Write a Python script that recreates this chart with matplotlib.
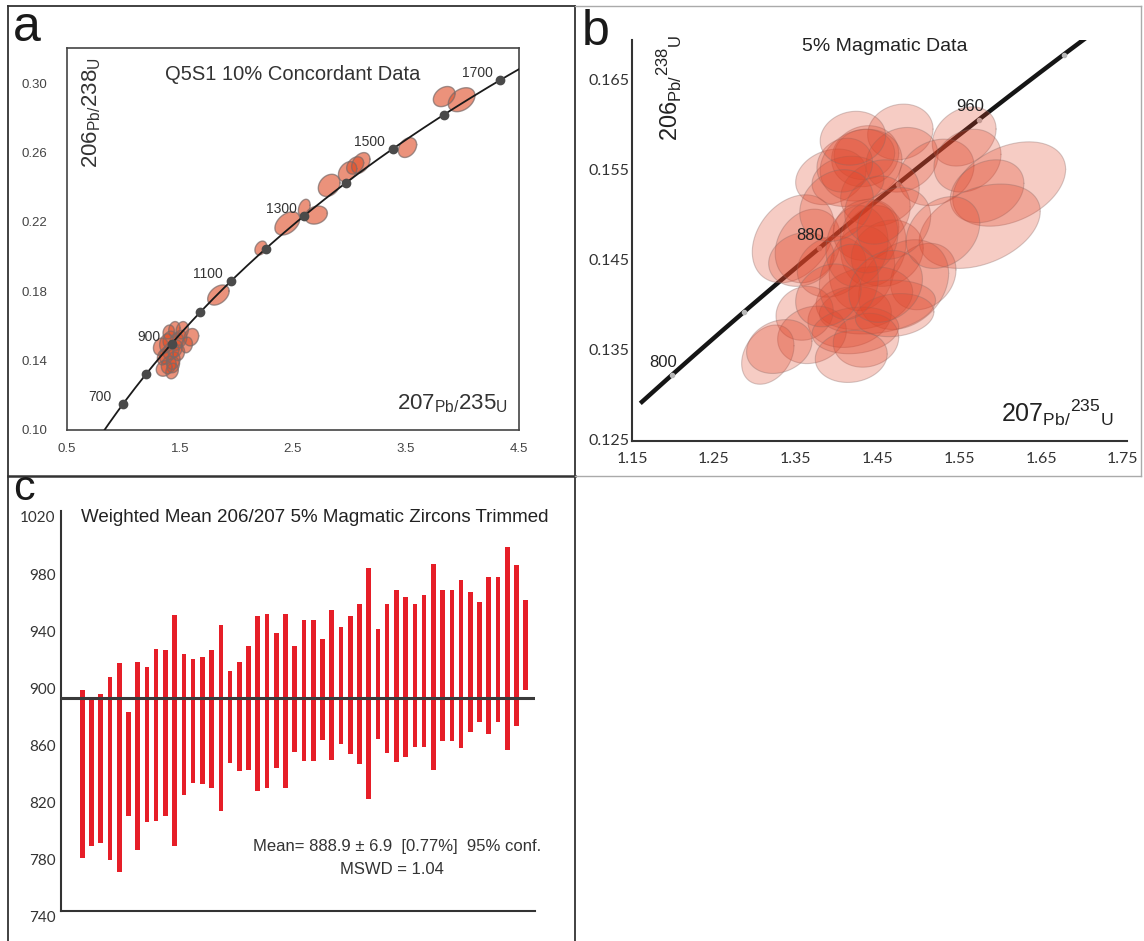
import numpy as np
import matplotlib
matplotlib.use("Agg")
import matplotlib.pyplot as plt
from matplotlib.lines import Line2D
from matplotlib.transforms import ScaledTranslation

plt.rcParams['font.family'] = ['Liberation Sans', 'DejaVu Sans']
plt.rcParams['mathtext.fontset'] = 'custom'
plt.rcParams['mathtext.rm'] = 'Liberation Sans'
plt.rcParams['mathtext.it'] = 'Liberation Sans'

W, H = 1144, 941

# decay constants (1/Ma) for the concordia curve
L238 = 1.55125e-4
L235 = 9.8485e-4

# ---- panel a: concordia, all 10% concordant data
a_marker_ages = [700, 800, 900, 1000, 1100, 1200, 1300, 1400, 1500, 1600, 1700]
a_label_ages = [700, 900, 1100, 1300, 1500, 1700]
a_curve_ages = (560, 1850)
a_xticks = [0.5, 1.5, 2.5, 3.5, 4.5]
a_yticks = [0.10, 0.14, 0.18, 0.22, 0.26, 0.30]
a_x = [3.838, 3.992, 3.513, 3.100, 2.983, 3.050, 2.820, 2.600, 2.705, 2.450, 2.215, 1.840,
       1.36, 1.40, 1.44, 1.33, 1.38, 1.42, 1.47, 1.45, 1.52, 1.50, 1.60, 1.56, 1.40, 1.43, 1.49, 1.35,
       1.41, 1.46, 1.38, 1.44]
a_sx = [0.096, 0.118, 0.081, 0.081, 0.081, 0.075, 0.096, 0.052, 0.099, 0.110, 0.052, 0.095,
        0.07, 0.065, 0.06, 0.065, 0.06, 0.07, 0.06, 0.05, 0.055, 0.06, 0.065, 0.05, 0.05, 0.055, 0.05, 0.05,
        0.06, 0.06, 0.06, 0.055]
a_y = [0.2922, 0.2904, 0.2628, 0.2539, 0.2489, 0.2525, 0.2410, 0.2280, 0.2239, 0.2191, 0.2049, 0.1778,
       0.1355, 0.1375, 0.1400, 0.1480, 0.1500, 0.1455, 0.1510, 0.1580, 0.1575, 0.1525, 0.1535, 0.1490,
       0.1565, 0.1340, 0.1445, 0.1420,
       0.1520, 0.1470, 0.1430, 0.1375]
a_sy = [0.0058, 0.0069, 0.0057, 0.0060, 0.0058, 0.0050, 0.0064, 0.0050, 0.0052, 0.0067, 0.0040, 0.0058,
        0.0045, 0.005, 0.005, 0.005, 0.0055, 0.005, 0.005, 0.0045, 0.005, 0.005, 0.005, 0.0045,
        0.004, 0.0045, 0.0045, 0.0045,
        0.005, 0.005, 0.005, 0.0045]
a_rho = [0.3, 0.35, 0.3, 0.35, 0.3, 0.3, 0.25, 0.3, 0.2, 0.4, 0.3, 0.4] + [0.15] * 20

# ---- panel b: 5% magmatic data
b_marker_ages = [800, 840, 880, 920, 960, 1000]
b_label_ages = [800, 880, 960]
b_curve_ages = (782, 1060)
b_xticks = [1.15, 1.25, 1.35, 1.45, 1.55, 1.65, 1.75]
b_yticks = [0.125, 0.135, 0.145, 0.155, 0.165]
b_x = [1.478, 1.556, 1.435, 1.434, 1.393, 1.430, 1.480, 1.522, 1.560, 1.611, 1.584, 1.575, 1.453, 1.414,
       1.347, 1.365, 1.436, 1.445, 1.431, 1.394, 1.462, 1.506, 1.357, 1.482,
       1.434, 1.416, 1.450, 1.361, 1.370, 1.423, 1.436, 1.418, 1.316, 1.330, 1.471,
       1.425, 1.440, 1.415, 1.450, 1.410,
       1.400, 1.470, 1.390, 1.460, 1.530, 1.420]
b_sx = [0.040, 0.039, 0.041, 0.037, 0.043, 0.050, 0.044, 0.046, 0.041, 0.069, 0.045, 0.074, 0.048, 0.044,
        0.050, 0.040, 0.040, 0.040, 0.040, 0.042, 0.044, 0.040, 0.040, 0.055,
        0.059, 0.051, 0.071, 0.035, 0.042, 0.053, 0.040, 0.044, 0.032, 0.040, 0.048,
        0.038, 0.035, 0.036, 0.040, 0.034,
        0.045, 0.045, 0.040, 0.045, 0.045, 0.040]
b_y = [0.1592, 0.1587, 0.1565, 0.1567, 0.1542, 0.1555, 0.1561, 0.1547, 0.1560, 0.1534, 0.1526, 0.1487, 0.1524, 0.1537,
       0.1473, 0.1465, 0.1483, 0.1465, 0.1440, 0.1442, 0.1457, 0.1431, 0.1450, 0.1422,
       0.1407, 0.1386, 0.1397, 0.1390, 0.1366, 0.1371, 0.1360, 0.1342, 0.1344, 0.1353, 0.1388,
       0.1465, 0.1475, 0.1425, 0.1505, 0.1555,
       0.1510, 0.1490, 0.1410, 0.1420, 0.1480, 0.1585]
b_sy = [0.0031, 0.0033, 0.0034, 0.0028, 0.0031, 0.0040, 0.0036, 0.0037, 0.0035, 0.0047, 0.0035, 0.0047, 0.0037, 0.0028,
        0.0049, 0.0041, 0.0034, 0.0045, 0.0047, 0.0034, 0.0037, 0.0037, 0.0030, 0.0050,
        0.0035, 0.0034, 0.0030, 0.0030, 0.0032, 0.0026, 0.0030, 0.0029, 0.0033, 0.0030, 0.0024,
        0.0045, 0.0040, 0.0042, 0.0038, 0.0030,
        0.0040, 0.0040, 0.0035, 0.0040, 0.0040, 0.0030]
b_rho = [0.1, 0.25, 0.1, 0.05, 0.2, 0.15, 0.15, 0.2, 0.2, 0.35, 0.25, 0.35, 0.15, 0.1,
         0.3, 0.2, 0.1, 0.1, 0.1, 0.15, 0.15, 0.2, 0.15, 0.25,
         0.2, 0.15, 0.25, 0.1, 0.15, 0.15, 0.1, 0.1, 0.3, 0.2, 0.15,
         0.1, 0.1, 0.1, 0.1, 0.1,
         0.2, 0.2, 0.2, 0.2, 0.25, 0.1]

# ---- panel c: weighted mean age bars (2 sigma ranges, Ma)
c_lo = [776.8, 785.4, 787.3, 775.7, 767.5, 806.4, 782.7, 802.5, 803.0, 806.4,
        785.4, 821.0, 829.7, 828.8, 825.8, 810.0, 843.3, 838.0, 839.0, 824.0,
        826.0, 840.0, 826.0, 851.0, 845.0, 845.0, 860.0, 846.0, 856.8, 849.8,
        842.8, 818.3, 860.7, 850.7, 844.4, 848.0, 855.0, 855.0, 839.0, 859.0,
        859.0, 853.8, 865.0, 872.0, 863.8, 872.0, 853.0, 869.5, 894.5]
c_hi = [894.5, 889.4, 891.7, 903.9, 913.7, 879.0, 914.4, 910.8, 923.7, 922.5,
        947.5, 919.7, 916.7, 917.8, 922.5, 940.5, 907.8, 914.6, 925.5, 946.5,
        948.0, 934.6, 948.0, 925.5, 943.5, 943.5, 930.6, 950.5, 939.0, 946.5,
        955.0, 980.0, 937.6, 955.0, 964.5, 960.0, 955.0, 961.4, 983.0, 965.0,
        965.0, 972.0, 963.0, 956.0, 974.0, 974.0, 994.7, 982.0, 957.5]
c_mean = 888.9
c_yticks = [740, 780, 820, 860, 900, 940, 980, 1020]


def concordia(age):
    age = np.asarray(age, dtype=float)
    return np.exp(L235 * age) - 1, np.exp(L238 * age) - 1


def ellipse(x, sx, y, sy, rho, n=90):
    t = np.linspace(0, 2 * np.pi, n)
    return x + sx * np.cos(t), y + sy * (rho * np.cos(t) + np.sqrt(1 - rho ** 2) * np.sin(t))


def fig_rect(l, t, r, b):
    return [l / W, 1 - b / H, (r - l) / W, (b - t) / H]


fig = plt.figure(figsize=(W / 100, H / 100), dpi=100)
fig.patch.set_facecolor('white')

# ================= panel a
ax = fig.add_axes(fig_rect(67, 48, 519, 430))
for x, sx, y, sy, r in zip(a_x, a_sx, a_y, a_sy, a_rho):
    ex, ey = ellipse(x, sx, y, sy, r)
    ax.fill(ex, ey, facecolor='#e0502a', alpha=0.62, edgecolor='none', zorder=2)
    ax.plot(ex, ey, color='#7a6a68', lw=1.0, alpha=0.7, zorder=2.5)
cx, cy = concordia(np.linspace(a_curve_ages[0], a_curve_ages[1], 300))
ax.plot(cx, cy, color='#1a1a1a', lw=1.3, zorder=3)
mx, my = concordia(a_marker_ages)
ax.plot(mx, my, 'o', color='#4a4a4a', ms=6, zorder=4)
for age in a_label_ages:
    px, py = concordia(age)
    ax.annotate(str(age), (px, py), xytext=(-23, 7), textcoords='offset pixels',
                ha='center', va='center', fontsize=10, color='#333333', zorder=5)
ax.set_xlim(0.5, 4.5)
ax.set_ylim(0.10, 0.3202)
ax.set_xticks(a_xticks)
ax.set_xticklabels([f"{v:.1f}" for v in a_xticks])
ax.set_yticks(a_yticks)
ax.set_yticklabels([f"{v:.2f}" for v in a_yticks])
ax.tick_params(length=0, labelsize=9.5, labelcolor='#444444')
ax.tick_params(axis='y', pad=14)
ax.tick_params(axis='x', pad=9)
for s in ax.spines.values():
    s.set_color('#444444')
    s.set_linewidth(1.2)
ax.text(0.5, 0.93, 'Q5S1 10% Concordant Data', transform=ax.transAxes, ha='center', va='center',
        fontsize=14.5, color='#333333')
ax.text(0.055, 0.83, r'$\mathregular{206_{Pb/}238_{U}}$', transform=ax.transAxes, rotation=90,
        ha='center', va='center', fontsize=16, color='#333333')
ax.text(0.852, 0.07, r'$\mathregular{207_{Pb/}235_{U}}$', transform=ax.transAxes,
        ha='center', va='center', fontsize=16, color='#333333')

# ================= panel b
bx = fig.add_axes(fig_rect(632, 40, 1127, 441))
cx, cy = concordia(np.linspace(b_curve_ages[0], b_curve_ages[1], 200))
bx.plot(cx, cy, color='#151515', lw=3.2, zorder=2, solid_capstyle='butt')
mx, my = concordia(b_marker_ages)
bx.plot(mx, my, 'o', color='#b8b8b8', ms=3, zorder=2.2)
for x, sx, y, sy, r in zip(b_x, b_sx, b_y, b_sy, b_rho):
    ex, ey = ellipse(x, sx, y, sy, r)
    bx.fill(ex, ey, facecolor='#e04428', alpha=0.27, edgecolor='none', zorder=3)
    bx.plot(ex, ey, color='#8a6a66', lw=0.8, alpha=0.35, zorder=3)
for age in b_label_ages:
    px, py = concordia(age)
    bx.annotate(str(age), (px, py), xytext=(-9, 13), textcoords='offset pixels',
                ha='center', va='center', fontsize=12, color='#222222', zorder=5)
bx.set_xlim(1.15, 1.755)
bx.set_ylim(0.12478, 0.16944)
bx.set_xticks(b_xticks)
bx.set_xticklabels([f"{v:.2f}" for v in b_xticks], family=['Lato', 'DejaVu Sans'])
bx.set_yticks(b_yticks)
bx.set_yticklabels([f"{v:.3f}" for v in b_yticks], family=['Lato', 'DejaVu Sans'])
bx.tick_params(length=0, labelsize=11.5, labelcolor='#333333')
bx.tick_params(axis='y', pad=2)
bx.tick_params(axis='x', pad=8)
for side in ['top', 'right']:
    bx.spines[side].set_visible(False)
for side in ['left', 'bottom']:
    bx.spines[side].set_color('#333333')
    bx.spines[side].set_linewidth(1.5)
bx.text(0.51, 0.985, '5% Magmatic Data', transform=bx.transAxes, ha='center', va='center',
        fontsize=14, color='#222222')
bx.text(0.075, 0.88, r'$\mathregular{206_{Pb/}{}^{238}{}_{U}}$', transform=bx.transAxes, rotation=90,
        ha='center', va='center', fontsize=17, color='#222222')
bx.text(0.86, 0.07, r'$\mathregular{207_{Pb/}{}^{235}{}_{U}}$', transform=bx.transAxes,
        ha='center', va='center', fontsize=18, color='#222222')

# ================= panel c
cxa = fig.add_axes(fig_rect(61, 511, 535, 911))
idx = np.arange(1, len(c_lo) + 1)
lo = np.array(c_lo)
hi = np.array(c_hi)
cxa.bar(idx, hi - lo, bottom=lo, width=0.5, color='#e61e28', zorder=2)
cxa.axhline(c_mean, color='#3a3a3a', lw=2.2, zorder=3)
cxa.set_xlim(-1.3, 50)
cxa.set_ylim(740, 1020)
cxa.set_xticks([])
cxa.set_yticks(c_yticks)
cxa.set_yticklabels([str(v) for v in c_yticks], family=['Lato', 'DejaVu Sans'])
cxa.tick_params(length=0, labelsize=11, labelcolor='#333333', pad=4)
shift = ScaledTranslation(0, -6 / 100, fig.dpi_scale_trans)
for lab in cxa.get_yticklabels():
    lab.set_transform(lab.get_transform() + shift)
for side in ['top', 'right']:
    cxa.spines[side].set_visible(False)
for side in ['left', 'bottom']:
    cxa.spines[side].set_color('#333333')
    cxa.spines[side].set_linewidth(1.5)
fig.text(315 / W, 1 - 517 / H, 'Weighted Mean 206/207 5% Magmatic Zircons Trimmed',
         ha='center', va='center', fontsize=13.5, color='#222222')
fig.text(397 / W, 1 - 847 / H, 'Mean= 888.9 \u00b1 6.9  [0.77%]  95% conf.',
         ha='center', va='center', fontsize=12, color='#333333')
fig.text(392 / W, 1 - 869 / H, 'MSWD = 1.04',
         ha='center', va='center', fontsize=12, color='#333333')

# ================= panel letters and borders
fig.text(27 / W, 1 - 28 / H, 'a', ha='center', va='center', fontsize=36, color='#1a1a1a')
fig.text(596 / W, 1 - 32 / H, 'b', ha='center', va='center', fontsize=36, color='#1a1a1a')
fig.text(24 / W, 1 - 489 / H, 'c', ha='center', va='center', fontsize=31, color='#1a1a1a')


def border(x0, y0, x1, y1, color, lw):
    fig.add_artist(Line2D([x0 / W, x1 / W], [1 - y0 / H, 1 - y1 / H], transform=fig.transFigure,
                          color=color, lw=lw))


border(8, 6, 575, 6, '#333333', 1.3)
border(8, 6, 8, 941, '#333333', 1.3)
border(575, 6, 575, 941, '#333333', 1.3)
border(8, 476, 575, 476, '#333333', 1.8)
border(575, 6, 1141, 6, '#aaaaaa', 1.0)
border(1141, 6, 1141, 476, '#aaaaaa', 1.0)
border(575, 476, 1141, 476, '#aaaaaa', 1.0)

fig.savefig('out.png', dpi=100, facecolor='white')
